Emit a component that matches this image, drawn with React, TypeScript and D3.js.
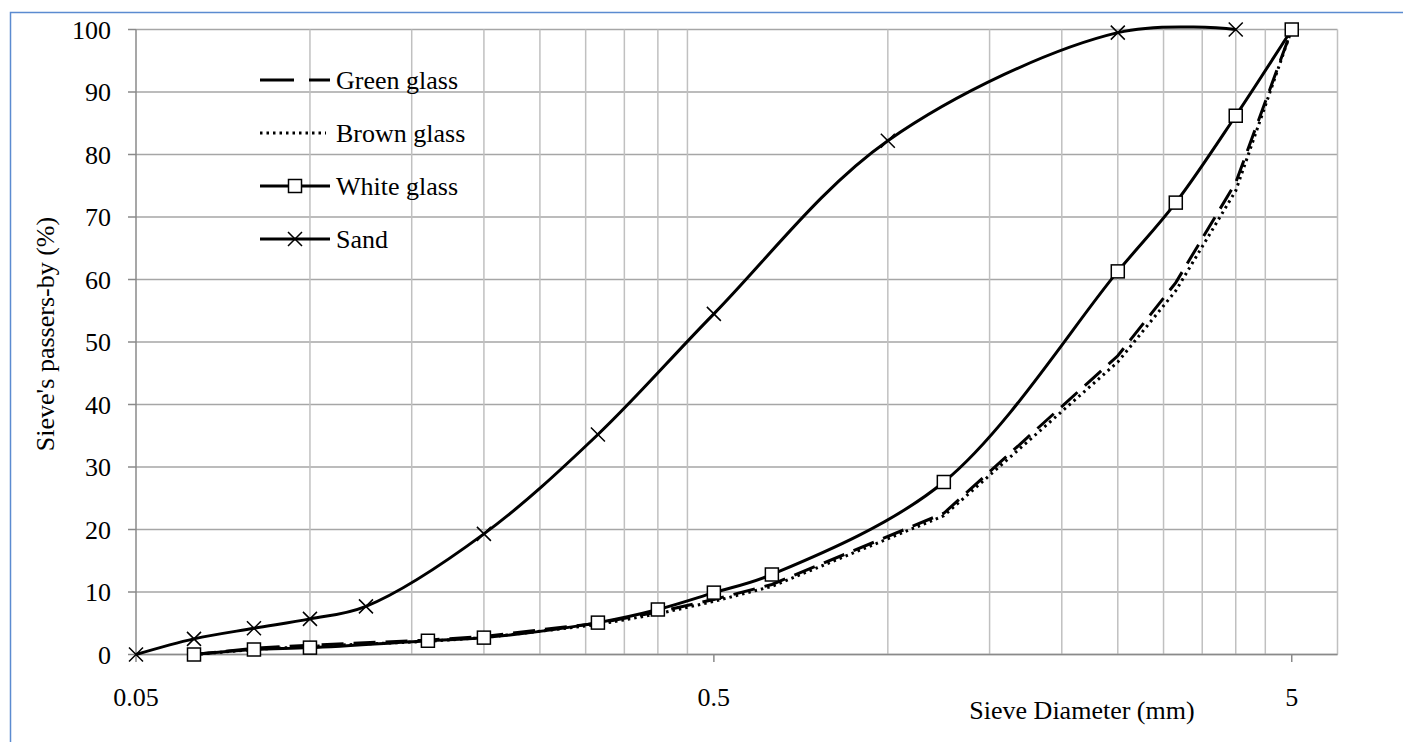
import React from "react";
import * as d3 from "d3";

const sieveSizes = [0.063, 0.08, 0.1, 0.16, 0.2, 0.315, 0.4, 0.5, 0.63, 1.25, 2.5, 3.15, 4, 5];
const greenGlass = [0, 1.0, 1.5, 2.3, 2.9, 5.0, 6.8, 8.8, 11.2, 22.6, 47.8, 59.5, 75.5, 100];
const brownGlass = [0, 0.8, 1.3, 2.1, 2.7, 4.8, 6.5, 8.5, 10.9, 22.2, 46.8, 58.2, 74.2, 100];
const whiteGlass = [0, 0.8, 1.1, 2.2, 2.7, 5.1, 7.2, 9.9, 12.8, 27.6, 61.3, 72.3, 86.2, 100];
const sandSizes = [0.05, 0.063, 0.08, 0.1, 0.125, 0.2, 0.315, 0.5, 1, 2.5, 4];
const sandValues = [0, 2.5, 4.2, 5.7, 7.7, 19.3, 35.2, 54.5, 82.2, 99.5, 100];

const yTicks = [0, 10, 20, 30, 40, 50, 60, 70, 80, 90, 100];
const xMajorTicks = [0.05, 0.5, 5];
const xTickLabels = ["0.05", "0.5", "5"];
const legendNames = ["Green glass", "Brown glass", "White glass", "Sand"];

const FONT = "'Liberation Serif', 'Times New Roman', serif";
const FS = 26;

export default function App() {
  const x = d3.scaleLog().domain([0.05, 6]).range([136, 1337.5]);
  const y = d3.scaleLinear().domain([0, 100]).range([654.5, 29.5]);

  const minorX: number[] = [];
  [0.05, 0.5].forEach((b) => {
    for (let k = 2; k <= 9; k++) minorX.push(b * k);
  });

  const smooth = d3
    .line<[number, number]>()
    .x((d) => x(d[0]))
    .y((d) => y(d[1]))
    .curve(d3.curveCatmullRom.alpha(0.5));
  const straight = d3
    .line<[number, number]>()
    .x((d) => x(d[0]))
    .y((d) => y(d[1]))
    .curve(d3.curveLinear);

  const green = sieveSizes.map((s, i) => [s, greenGlass[i]] as [number, number]);
  const brown = sieveSizes.map((s, i) => [s, brownGlass[i]] as [number, number]);
  const white = sieveSizes.map((s, i) => [s, whiteGlass[i]] as [number, number]);
  const sand = sandSizes.map((s, i) => [s, sandValues[i]] as [number, number]);

  const legendY = [80, 133, 186, 239];
  const lx0 = 260;
  const lx1 = 330;
  const lxm = (lx0 + lx1) / 2;

  const sq = 13;
  const xs = 7;

  return (
    <svg
      width={1403}
      height={742}
      style={{ position: "absolute", left: 0, top: 0, background: "#fff" }}
      fontFamily={FONT}
    >
      <rect x={10.5} y={12.5} width={1500} height={800} fill="#fff" stroke="#5b8bd0" strokeWidth={1.5} />

      {yTicks.map((t) => (
        <line key={"h" + t} x1={136} x2={1337.5} y1={y(t)} y2={y(t)} stroke="#a6a6a6" strokeWidth={1.5} />
      ))}
      {minorX.map((v, i) => (
        <line key={"m" + i} x1={x(v)} x2={x(v)} y1={y(0)} y2={y(100)} stroke="#c0c0c0" strokeWidth={1.5} />
      ))}
      <line x1={x(6)} x2={x(6)} y1={y(0)} y2={y(100)} stroke="#c0c0c0" strokeWidth={1.5} />
      {xMajorTicks.map((v, i) => (
        <line key={"M" + i} x1={x(v)} x2={x(v)} y1={y(0)} y2={662} stroke="#8a8a8a" strokeWidth={1.5} />
      ))}
      <line x1={136} x2={1337.5} y1={y(0)} y2={y(0)} stroke="#8a8a8a" strokeWidth={1.5} />
      <line x1={136} x2={136} y1={y(0)} y2={y(100)} stroke="#8a8a8a" strokeWidth={1.5} />
      {yTicks.map((t) => (
        <line key={"yt" + t} x1={128} x2={136} y1={y(t)} y2={y(t)} stroke="#8a8a8a" strokeWidth={1.5} />
      ))}

      {yTicks.map((t) => (
        <text key={"yl" + t} x={111} y={y(t)} dy="0.35em" textAnchor="end" fontSize={FS} fill="#000">
          {t}
        </text>
      ))}
      {xMajorTicks.map((v, i) => (
        <text key={"xl" + i} x={x(v)} y={697} dy="0.35em" textAnchor="middle" fontSize={FS} fill="#000">
          {xTickLabels[i]}
        </text>
      ))}
      <text x={1082} y={710} dy="0.35em" textAnchor="middle" fontSize={FS} fill="#000">
        Sieve Diameter (mm)
      </text>
      <text
        transform="translate(45,334) rotate(-90)"
        textAnchor="middle"
        dy="0.35em"
        fontSize={FS}
        fill="#000"
      >
        Sieve's passers-by (%)
      </text>

      <path d={straight(green) || ""} fill="none" stroke="#000" strokeWidth={3} strokeDasharray="22,10" />
      <path d={straight(brown) || ""} fill="none" stroke="#000" strokeWidth={3} strokeDasharray="2.5,4" />
      <path d={smooth(white) || ""} fill="none" stroke="#000" strokeWidth={3} />
      <path d={smooth(sand) || ""} fill="none" stroke="#000" strokeWidth={3} />

      {white.map((d, i) => (
        <rect
          key={"wm" + i}
          x={x(d[0]) - sq / 2}
          y={y(d[1]) - sq / 2}
          width={sq}
          height={sq}
          fill="#fff"
          stroke="#000"
          strokeWidth={1.5}
        />
      ))}
      {sand.map((d, i) => (
        <path
          key={"sm" + i}
          d={`M${x(d[0]) - xs},${y(d[1]) - xs}L${x(d[0]) + xs},${y(d[1]) + xs}M${x(d[0]) - xs},${y(d[1]) + xs}L${x(d[0]) + xs},${y(d[1]) - xs}`}
          stroke="#000"
          strokeWidth={1.5}
          fill="none"
        />
      ))}

      <line x1={lx0} x2={lx1} y1={legendY[0]} y2={legendY[0]} stroke="#000" strokeWidth={3} strokeDasharray="34,15" />
      <line x1={lx0} x2={lx1 - 4} y1={legendY[1]} y2={legendY[1]} stroke="#000" strokeWidth={3} strokeDasharray="2.5,4" />
      <line x1={lx0} x2={lx1} y1={legendY[2]} y2={legendY[2]} stroke="#000" strokeWidth={3} />
      <rect x={lxm - 6.5} y={legendY[2] - 6.5} width={13} height={13} fill="#fff" stroke="#000" strokeWidth={1.5} />
      <line x1={lx0} x2={lx1} y1={legendY[3]} y2={legendY[3]} stroke="#000" strokeWidth={3} />
      <path
        d={`M${lxm - xs},${legendY[3] - xs}L${lxm + xs},${legendY[3] + xs}M${lxm - xs},${legendY[3] + xs}L${lxm + xs},${legendY[3] - xs}`}
        stroke="#000"
        strokeWidth={1.5}
      />
      {legendNames.map((n, i) => (
        <text key={n} x={336} y={legendY[i]} dy="0.35em" fontSize={FS} fill="#000">
          {n}
        </text>
      ))}
    </svg>
  );
}
